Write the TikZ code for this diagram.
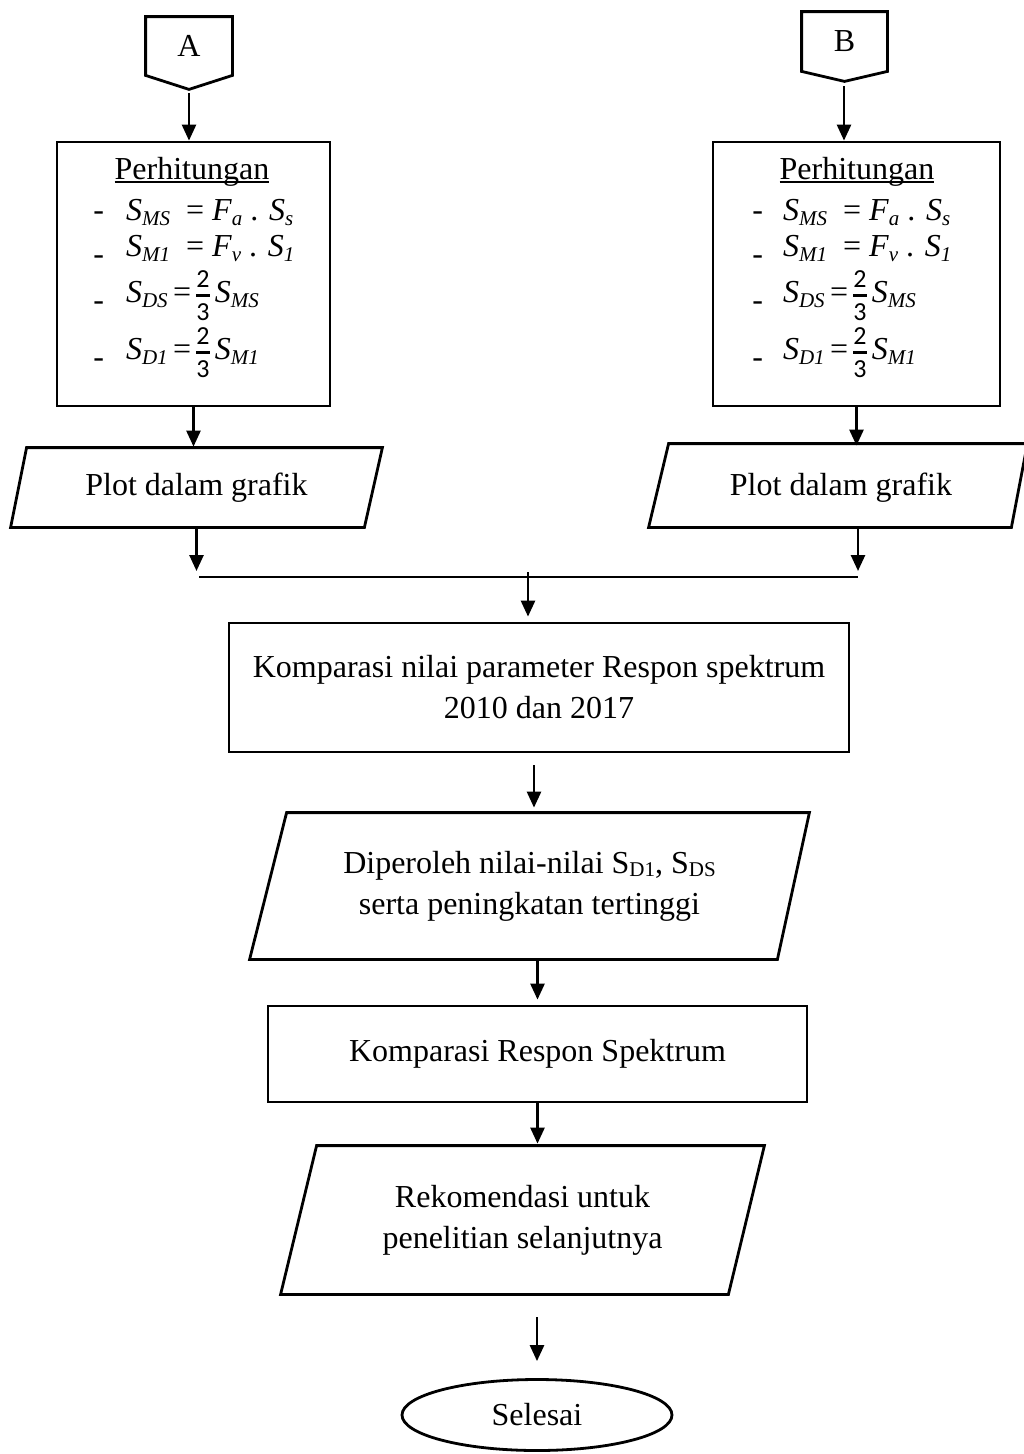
\documentclass[tikz,border=0pt]{standalone}
\usepackage{fontspec}
\setmainfont{Liberation Serif}
\setsansfont{Carlito}
\usetikzlibrary{calc,arrows.meta,shapes.geometric}
\newcommand\Sb[2]{\textit{#1}\raisebox{-0.16em}{\fontsize{21}{21}\selectfont\textit{#2}}}
\newcommand\Su[2]{#1\raisebox{-0.10em}{\fontsize{21}{21}\selectfont #2}}
\newcommand\twothirds{\ensuremath{\vcenter{\hbox{\fontsize{26}{26}\selectfont\sffamily\vbox{\halign{\hfil##\hfil\cr 2\cr\noalign{\kern6pt\hrule height2.8pt\kern7pt}3\cr}}}}}}
\newcommand\ulin[1]{\setbox0\hbox{#1}\rlap{\rule[-3pt]{\wd0}{1.6pt}}\box0}
\newcommand\lowdash{\raisebox{-8pt}{-}}
\begin{document}
\begin{tikzpicture}[x=1pt,y=-1pt,line width=2.8pt,
  every node/.style={font=\fontsize{32}{41}\selectfont},
  box/.style={draw,line width=2.8pt,inner sep=0pt,align=center},
  ghost/.style={inner sep=0pt,align=center},
  arr/.style={line width=2.6pt,-{Triangle[width=14pt,length=16pt]}},
  fml/.style={anchor=base west,inner sep=0pt}]
\useasboundingbox (0,0) rectangle (1023,1454);

% off-page connectors
\node[ghost,minimum width=84,minimum height=56] (A) at (189,46) {A};
\draw[line join=miter] (A.north west) -- (A.north east) -- (A.south east) -- ($(A.south)+(0,14)$) -- (A.south west) -- cycle;
\node[ghost,minimum width=83,minimum height=57] (B) at (844.5,41.5) {B};
\draw[line join=miter] (B.north west) -- (B.north east) -- (B.south east) -- ($(B.south)+(0,10)$) -- (B.south west) -- cycle;

% calculation boxes
\node[box,minimum width=273,minimum height=264] (L1) at (193.5,274) {};
\node[box,minimum width=287,minimum height=264] (R1) at (856.5,274) {};

\node[ghost] (LT) at (192,172) {\ulin{Perhitungan}};
\node[fml] (LF1) at (92,220) {-\hspace{22pt}\Sb{S}{MS}~ = \Sb{F}{a} . \Sb{S}{s}};
\node[fml] (LF2) at (92,256) {\lowdash\hspace{22pt}\Sb{S}{M1}~ = \Sb{F}{v} . \Sb{S}{1}};
\node[fml] (LF3) at (92,302) {\lowdash\hspace{22pt}\Sb{S}{DS}\,=\,\twothirds\,\Sb{S}{MS}};
\node[fml] (LF4) at (92,359) {\lowdash\hspace{22pt}\Sb{S}{D1}\,=\,\twothirds\,\Sb{S}{M1}};

\node[ghost] (RT) at (857,172) {\ulin{Perhitungan}};
\node[fml] (RF1) at (751,220) {-\hspace{20pt}\Sb{S}{MS}~ = \Sb{F}{a} . \Sb{S}{s}};
\node[fml] (RF2) at (751,256) {\lowdash\hspace{20pt}\Sb{S}{M1}~ = \Sb{F}{v} . \Sb{S}{1}};
\node[fml] (RF3) at (751,302) {\lowdash\hspace{20pt}\Sb{S}{DS}\,=\,\twothirds\,\Sb{S}{MS}};
\node[fml] (RF4) at (751,359) {\lowdash\hspace{20pt}\Sb{S}{D1}\,=\,\twothirds\,\Sb{S}{M1}};

% plot parallelograms
\node[ghost,minimum width=369,minimum height=77] (P1) at (196.5,487.5) {Plot dalam grafik};
\draw ($(P1.north west)+(16,0)$) -- (P1.north east) -- ($(P1.south east)+(-18,0)$) -- (P1.south west) -- cycle;
\node[ghost,minimum width=376,minimum height=81] (P2) at (838,485.5) {};
\node[ghost] (P2t) at (841,488) {Plot dalam grafik};
\draw ($(P2.north west)+(20,0)$) -- (P2.north east) -- ($(P2.south east)+(-16,0)$) -- (P2.south west) -- cycle;

% junction
\coordinate (J1) at (199,577);
\coordinate (J2) at (858,577);
\draw (J1) -- (J2);
\coordinate (jc) at (528,572);

% comparison box
\node[box,minimum width=620,minimum height=129] (K) at (539,687.5) {Komparasi nilai parameter Respon spektrum\\2010 dan 2017};

% result parallelogram
\node[ghost,minimum width=557,minimum height=144] (Q) at (529.5,886) {Diperoleh nilai-nilai \Su{S}{D1}, \Su{S}{DS}\\serta peningkatan tertinggi};
\draw ($(Q.north west)+(37,0)$) -- (Q.north east) -- ($(Q.south east)+(-32,0)$) -- (Q.south west) -- cycle;

% comparison 2
\node[box,minimum width=539,minimum height=96] (M) at (537.5,1054) {Komparasi Respon Spektrum};

% recommendation parallelogram
\node[ghost,minimum width=481,minimum height=146] (R) at (522.5,1220) {Rekomendasi untuk\\penelitian selanjutnya};
\draw ($(R.north west)+(36,0)$) -- (R.north east) -- ($(R.south east)+(-36,0)$) -- (R.south west) -- cycle;

% end
\node[draw,ellipse,line width=2.8pt,inner sep=0pt,minimum width=270,minimum height=71] (E) at (537,1415) {Selesai};

% arrows
\draw[arr] ($(A.south)+(0,18)$) -- (A.south |- L1.north);
\draw[arr] ($(B.south)+(-0.5,15)$) -- ($(B.south |- R1.north)+(-0.5,0)$);
\draw[arr] (L1.south) -- ($(L1.south |- P1.north)+(0,-1)$);
\draw[arr] (R1.south) -- ($(R1.south |- P2.north)+(0,2)$);
\draw[arr] ($(P1.south)+(0,2)$) -- ($(P1.south |- J1)+(0,-6)$);
\draw[arr] ($(P2.south -| J2)+(0,2)$) -- ($(J2)+(0,-6)$);
\draw[arr] (jc) -- ($(jc |- K.north)+(0,-5)$);
\coordinate (k1) at (534,765);
\draw[arr] (k1) -- ($(k1 |- Q.north)+(0,-5)$);
\draw[arr] ($(M.north |- Q.south)+(0,2)$) -- ($(M.north)+(0,-5)$);
\draw[arr] (M.south) -- ($(M.south |- R.north)+(0,-2)$);
\draw[arr] ($(E.north)+(0,-61)$) -- ($(E.north)+(0,-17)$);
\end{tikzpicture}
\end{document}
